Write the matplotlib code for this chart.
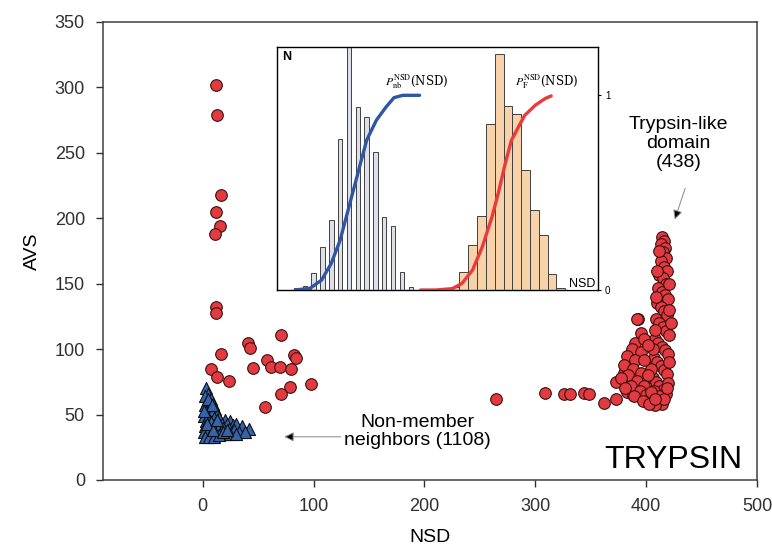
import numpy as np
import matplotlib
matplotlib.use("Agg")
import matplotlib.pyplot as plt

plt.rcParams['font.family'] = ['Liberation Sans', 'DejaVu Sans']
plt.rcParams['mathtext.fontset'] = 'stix'

# red circles: outliers
red_x = [12.4, 13.3, 16.2, 12.4, 15.3, 10.8, 11.7, 11.7, 40.9, 42.7, 70.4, 16.2, 82.4, 83.9,
         7.8, 12.6, 23.7, 45.4, 58.4, 62.0, 69.8, 79.4, 97.5, 78.8, 70.4, 56.2,
         264.4, 308.7, 325.5, 331.2, 344.2, 348.7, 362.2, 372.7, 382.7, 388.4, 372.7, 380.2, 392.3]
red_y = [301.8, 278.9, 217.8, 204.6, 194.3, 187.7, 132.4, 127.4, 104.4, 101.1, 110.8, 96.0, 95.5, 93.0,
         84.8, 78.5, 75.7, 85.8, 91.7, 86.3, 86.6, 84.6, 73.1, 70.8, 65.7, 56.0,
         61.9, 66.7, 65.7, 65.7, 66.7, 65.7, 59.1, 61.9, 67.5, 65.0, 75.1, 81.5, 122.8]

# trypsin-like domain column
col_x = [414, 416, 413, 417, 415, 418, 413, 416, 419, 412, 415, 418, 411, 414, 417, 420,
         410, 413, 416, 419, 409, 412, 415, 418, 421, 408, 411, 414, 417, 420, 407, 410,
         413, 416, 419, 406, 409, 412, 415, 418, 405, 410, 414, 408,
         412, 410, 421, 409, 421, 408, 422, 406, 421, 404, 420, 407, 412, 416, 419,
         392, 395, 390, 398, 387, 395, 402, 383, 390, 398, 380, 388, 395, 402, 384, 392,
         398, 377, 386, 394, 400, 381, 389, 397, 403, 404, 408]
col_y = [186, 183, 180, 177, 174, 170, 167, 163, 160, 157, 154, 150, 147, 144, 141, 138,
         135, 132, 129, 126, 123, 120, 117, 114, 111, 108, 105, 102, 99, 96, 93, 90,
         87, 84, 81, 78, 75, 72, 69, 66, 63, 60, 58, 57,
         175, 160, 150, 140, 130, 115, 120, 100, 90, 85, 74, 68, 64, 62, 70,
         123, 112, 105, 108, 100, 98, 103, 95, 92, 92, 88, 85, 82, 80, 80, 76,
         72, 78, 72, 68, 65, 70, 64, 60, 58, 67, 62]

# blue triangles: non-member neighbors
blue_x = [3, 5, 2, 7, 4, 9, 2, 6, 11, 3, 8, 13, 1, 5, 10, 15, 20, 25, 3, 7, 12, 17, 22, 27,
          30, 35, 42, 2, 6, 10, 14, 18, 24, 28, 33, 38, 1, 4, 8, 12, 16, 20, 25, 30, 2, 6,
          10, 15, 5, 8, 1, 4, 9, 18, 13, 22]
blue_y = [70, 66, 64, 62, 60, 58, 57, 55, 54, 52, 51, 50, 49, 48, 47, 47, 46, 45, 45, 44, 44, 43, 43, 42,
          43, 41, 39, 41, 40, 40, 39, 40, 39, 38, 37, 37, 37, 36, 35, 35, 35, 35, 35, 35, 33, 33,
          33, 34, 62, 57, 53, 43, 38, 37, 46, 38]

# inset histograms
grey_centers = [20, 30, 40, 50, 60, 70, 80, 90, 100, 110, 120, 130, 140, 150]
grey_heights = [5, 12, 50, 130, 210, 455, 800, 550, 520, 415, 218, 192, 55, 8]
orange_centers = [200, 210, 220, 230, 240, 250, 260, 270, 280, 290, 300, 310, 320]
orange_heights = [8, 55, 135, 222, 500, 708, 552, 528, 360, 240, 165, 48, 5]

# cumulative curves
blue_cx = [19, 36, 49, 60, 70, 77, 88, 100, 111, 122, 131, 141, 160]
blue_cy = [0.0, 0.009, 0.051, 0.137, 0.256, 0.376, 0.564, 0.769, 0.872, 0.94, 0.988, 1.0, 1.0]
red_cx = [161, 178, 197, 208, 220, 231, 242, 249, 257, 264, 272, 279, 291, 302, 309]
red_cy = [0.0, 0.0, 0.007, 0.034, 0.103, 0.222, 0.376, 0.496, 0.65, 0.769, 0.838, 0.897, 0.949, 0.983, 0.997]

fig = plt.figure(figsize=(7.72, 5.5), dpi=100)
ax = fig.add_axes([0.1334, 0.1273, 0.8472, 0.8327])

ax.scatter(red_x, red_y, s=70, c='#e23a40', edgecolors='#3a1010', linewidths=0.8, zorder=3)
ax.scatter(col_x, col_y, s=70, c='#e23a40', edgecolors='#3a1010', linewidths=0.8, zorder=3)
ax.scatter(blue_x, blue_y, s=75, marker='^', c='#3563ad', edgecolors='#101010', linewidths=0.8, zorder=3)

ax.set_xlim(-90, 500)
ax.set_ylim(0, 350)
ax.set_xticks([0, 100, 200, 300, 400, 500])
ax.set_yticks([0, 50, 100, 150, 200, 250, 300, 350])
ax.tick_params(direction='out', length=5, width=1, labelsize=13, colors='#303030', pad=8)
for sp in ax.spines.values():
    sp.set_color('#404040')
    sp.set_linewidth(1.1)
ax.set_xlabel('NSD', fontsize=14, labelpad=10)
ax.set_ylabel('AVS', fontsize=14, labelpad=10)

ax.annotate('', xy=(71, 33), xytext=(127, 33),
            arrowprops=dict(arrowstyle='-|>', color='#888888', lw=0.7, mutation_scale=14,
                            fc='black', ec='#888888'))
ax.text(194, 37, 'Non-member\nneighbors (1108)', fontsize=14, ha='center', va='center',
        linespacing=1.05)
ax.annotate('', xy=(425, 197), xytext=(436, 225),
            arrowprops=dict(arrowstyle='-|>', color='#888888', lw=0.7, mutation_scale=14,
                            fc='black', ec='#888888'))
ax.text(429, 257, 'Trypsin-like\ndomain\n(438)', fontsize=14, ha='center', va='center',
        linespacing=1.15)
ax.text(487, 15, 'TRYPSIN', fontsize=23, ha='right', va='center')

# inset
ins = fig.add_axes([0.3588, 0.4727, 0.4158, 0.4418])
ins.bar(grey_centers, grey_heights, width=5, color='#dde0ea', edgecolor='#404040', linewidth=0.7)
ins.bar(orange_centers, orange_heights, width=10, color='#f8d2a8', edgecolor='#404040', linewidth=0.7)
ins.set_xlim(-1.5, 362)
ins.set_ylim(0, 730)
ins.set_xticks([])
ins.set_yticks([])
for sp in ins.spines.values():
    sp.set_color('#404040')
    sp.set_linewidth(1.0)
ins.text(4, 700, 'N', fontsize=9, fontweight='bold', ha='left', va='center')
ins.text(359, 18, 'NSD', fontsize=9, ha='right', va='center',
         bbox=dict(facecolor='white', edgecolor='none', pad=0.5))

cdf = ins.twinx()
cdf.plot(blue_cx, blue_cy, color='#2f55a5', lw=2.4, solid_capstyle='round')
cdf.plot(red_cx, red_cy, color='#ec3a3c', lw=2.4, solid_capstyle='round')
cdf.set_ylim(0, 1.248)
cdf.set_yticks([0, 1])
cdf.tick_params(axis='y', direction='out', length=2, labelsize=7, pad=3)
cdf.text(157, 1.07, r'$P_{\rm nb}^{\rm NSD}$(NSD)', fontsize=8.5, family='serif',
         ha='center', va='center')
cdf.text(304, 1.07, r'$P_{\rm F}^{\rm NSD}$(NSD)', fontsize=8.5, family='serif',
         ha='center', va='center')

fig.savefig('out.png', dpi=100)
